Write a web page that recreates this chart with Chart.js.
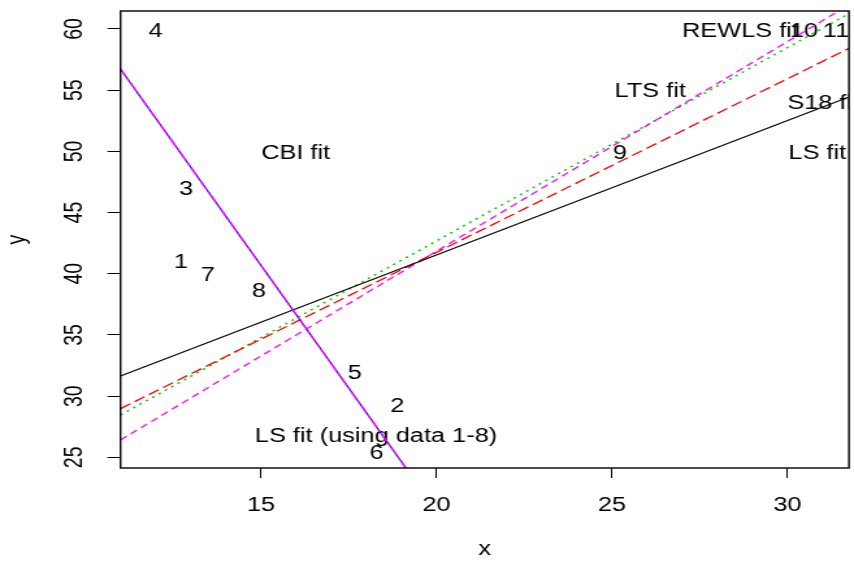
<!DOCTYPE html>
<html>
<head>
<meta charset="utf-8">
<script src="https://cdn.jsdelivr.net/npm/chart.js@4/dist/chart.umd.min.js"></script>
<style>
  html, body { margin: 0; padding: 0; background: #fff; }
  canvas { display: block; }
</style>
</head>
<body>
<!-- the reference is a horizontally stretched plot, so the canvas is drawn narrower and stretched by css -->
<canvas id="fitChart" width="657" height="562" style="width:854px;height:562px"></canvas>
<script>
// axis ranges and ticks
var xRange = [11, 31.75];
var yRange = [24.13, 61.47];
var xTicks = [15, 20, 25, 30];
var yTicks = [25, 30, 35, 40, 45, 50, 55, 60];

// fitted lines, endpoints
var lineX = [11, 31.75];
var lsY = [31.65, 54.44];
var ltsY = [28.98, 58.42];
var rewlsY = [28.46, 61.25];
var s18Y = [26.42, 61.97];
var cbiX = [11, 19.3];
var cbiY = [56.73, 23.45];

// point numbers and fit labels
var labelText = ['1', '2', '3', '4', '5', '6', '7', '8', '9', '10', '11',
  'CBI fit', 'LS fit (using data 1-8)', 'LTS fit', 'REWLS fit', 'S18 fit', 'LS fit'];
var labelX = [12.72, 18.89, 12.87, 12.0, 17.67, 18.29, 13.49, 14.94, 25.23, 30.47, 31.38,
  15.99, 18.28, 26.09, 28.66, 31.02, 30.85];
var labelY = [40.91, 29.17, 46.87, 59.77, 31.84, 25.33, 39.82, 38.55, 49.84, 59.78, 59.78,
  49.81, 26.72, 54.88, 59.78, 53.9, 49.81];

var fontFamily = '"Liberation Sans", Arial, sans-serif';

function pts(xs, ys) {
  return xs.map(function(x, i) { return { x: x, y: ys[i] }; });
}

function line(data, color, dash, width) {
  return {
    data: data,
    showLine: true,
    borderColor: color,
    borderWidth: width,
    borderDash: dash,
    pointRadius: 0,
    fill: false,
    tension: 0
  };
}

var textLabels = {
  id: 'textLabels',
  beforeDatasetsDraw: function(chart) {
    var ctx = chart.ctx, a = chart.chartArea;
    var sx = chart.scales.x, sy = chart.scales.y;
    ctx.save();
    ctx.beginPath();
    ctx.rect(a.left, a.top, a.right - a.left, a.bottom - a.top);
    ctx.clip();
    ctx.fillStyle = '#000';
    ctx.font = '19.5px ' + fontFamily;
    ctx.textAlign = 'center';
    ctx.textBaseline = 'middle';
    for (var i = 0; i < labelText.length; i++) {
      ctx.fillText(labelText[i], sx.getPixelForValue(labelX[i]), sy.getPixelForValue(labelY[i]));
    }
    ctx.restore();
  },
  afterDraw: function(chart) {
    var ctx = chart.ctx, a = chart.chartArea;
    ctx.save();
    ctx.strokeStyle = '#000';
    ctx.lineWidth = 1.4;
    ctx.strokeRect(a.left, a.top, a.right - a.left, a.bottom - a.top);
    ctx.restore();
  }
};

var ctx = document.getElementById('fitChart').getContext('2d');
var fitChart = new Chart(ctx, {
  type: 'scatter',
  data: {
    datasets: [
      line(pts(cbiX, cbiY), '#ff00ff', [9, 2, 3, 2], 1.4),
      line(pts(cbiX, cbiY), '#0000ff', [], 1.2),
      line(pts(lineX, lsY), '#000000', [], 1.2),
      line(pts(lineX, ltsY), '#ff0000', [9, 4], 1.3),
      line(pts(lineX, s18Y), '#ff00ff', [6, 4], 1.3),
      line(pts(lineX, rewlsY), '#00cc00', [2, 4], 1.5)
    ]
  },
  options: {
    responsive: false,
    animation: false,
    devicePixelRatio: 1,
    layout: { padding: { top: 11, right: 3.9, left: 0, bottom: 0 } },
    plugins: {
      legend: { display: false },
      tooltip: { enabled: false }
    },
    scales: {
      x: {
        type: 'linear',
        min: xRange[0],
        max: xRange[1],
        afterBuildTicks: function(scale) {
          scale.ticks = xTicks.map(function(v) { return { value: v }; });
        },
        afterFit: function(scale) {
          scale.height = 94;
          scale.paddingLeft = 0;
          scale.paddingRight = 0;
        },
        grid: { drawOnChartArea: false, drawTicks: true, tickLength: 10, color: '#000', lineWidth: 1 },
        border: { display: false },
        ticks: { color: '#000', padding: 16, maxRotation: 0, font: { size: 19.5, family: fontFamily } },
        title: { display: true, text: 'x', color: '#000', padding: { top: 0, bottom: 1 }, font: { size: 19.5, family: fontFamily } }
      },
      y: {
        type: 'linear',
        min: yRange[0],
        max: yRange[1],
        afterBuildTicks: function(scale) {
          scale.ticks = yTicks.map(function(v) { return { value: v }; });
        },
        afterFit: function(scale) {
          scale.width = 92.7;
          scale.paddingTop = 0;
          scale.paddingBottom = 0;
        },
        grid: { drawOnChartArea: false, drawTicks: true, tickLength: 10, color: '#000', lineWidth: 1 },
        border: { display: false },
        ticks: { color: '#000', padding: 14, minRotation: 90, maxRotation: 90, crossAlign: 'center', font: { size: 19.5, family: fontFamily } },
        title: { display: true, text: 'y', color: '#000', padding: { top: 2, bottom: 0 }, font: { size: 19.5, family: fontFamily } }
      }
    }
  },
  plugins: [textLabels]
});
</script>
</body>
</html>
